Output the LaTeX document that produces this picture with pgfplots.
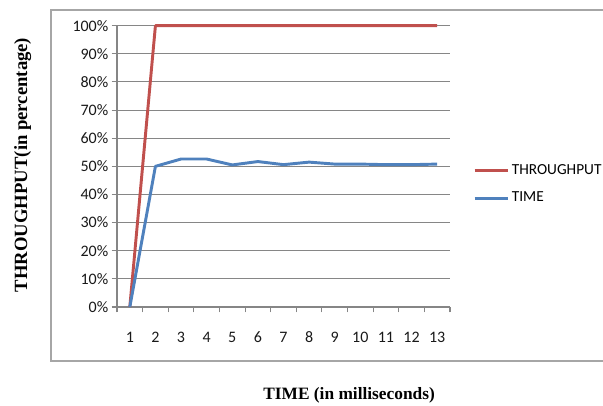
\documentclass[border=0pt]{standalone}
\usepackage{pgfplots}
\pgfplotsset{compat=1.18}
\usepackage{fontspec}
\setmainfont{Carlito}
\newfontfamily\labelfont{Liberation Serif}
\definecolor{xlred}{RGB}{192,80,77}
\definecolor{xlblue}{RGB}{79,129,189}
\definecolor{gridgray}{RGB}{134,134,134}
\begin{document}
\begin{tikzpicture}[x=0.75pt,y=0.75pt]
\useasboundingbox (0,0) rectangle (603,405);
\draw[gray!70, line width=0.9pt] (610,395) -- (51,395) -- (51,44) -- (610,44);
\begin{axis}[
  at={(87.75pt,73.5pt)}, anchor=south west,
  scale only axis, width=249.75pt, height=211pt,
  xmin=0.5, xmax=13.5, ymin=0, ymax=100,
  axis x line*=bottom, axis y line*=left,
  axis line style={gridgray, line width=0.8pt, -},
  xtick={1,...,13},
  minor xtick={0.5,1.5,...,13.5},
  major x tick style={draw=none},
  minor x tick style={gridgray, line width=0.8pt},
  minor tick length=4pt,
  tick align=outside,
  ytick={0,10,...,100},
  major tick length=4pt,
  y tick style={gridgray, line width=0.8pt},
  ymajorgrids, grid style={gridgray, line width=0.8pt},
  /pgf/number format/assume math mode=true,
  typeset ticklabels with strut,
  tick label style={font=\fontsize{12}{14}\selectfont, text=black!90},
  yticklabel={\pgfmathprintnumber{\tick}\%},
  yticklabel style={xshift=1pt},
  xticklabel style={yshift=-9pt},
  xlabel={TIME (in milliseconds)},
  ylabel={THROUGHPUT(in percentage)},
  label style={font=\labelfont\bfseries\fontsize{13}{15}\selectfont},
  xlabel style={at={(rel axis cs:0.697,-0.313)}, anchor=center},
  ylabel style={at={(rel axis cs:-0.283,0.505)}, anchor=center, font=\labelfont\bfseries\fontsize{14}{16}\selectfont},
  legend style={at={(rel axis cs:1.069,0.437)}, anchor=west, draw=none, fill=none,
    font=\fontsize{11.5}{13}\selectfont, row sep=8pt, inner sep=0pt},
  legend cell align=left,
  legend image code/.code={\draw[#1] (0pt,0pt) -- (24.75pt,0pt);},
  every axis plot/.append style={line width=2.2pt, line join=round},
  clip=false,
]
\addplot[xlred, mark=none] coordinates {
(1,0) (2,100) (3,100) (4,100) (5,100) (6,100) (7,100) (8,100) (9,100) (10,100) (11,100) (12,100) (13,100)};
\addlegendentry{THROUGHPUT}
\addplot[xlblue, mark=none] coordinates {
(1,0) (2,50) (3,52.6) (4,52.6) (5,50.5) (6,51.7) (7,50.6) (8,51.5) (9,50.8) (10,50.8) (11,50.6) (12,50.6) (13,50.8)};
\addlegendentry{TIME}
\end{axis}
\end{tikzpicture}
\end{document}
